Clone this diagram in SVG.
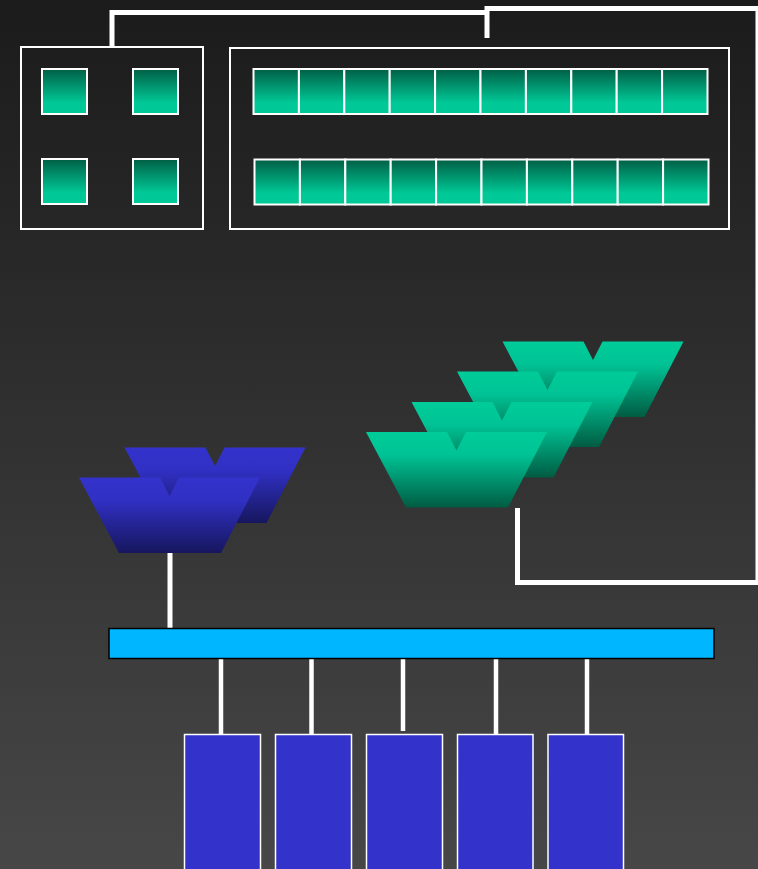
<svg xmlns="http://www.w3.org/2000/svg" width="758" height="869" viewBox="0 0 758 869">
<defs>
<linearGradient id="bg" x1="0" y1="0" x2="0" y2="1"><stop offset="0" stop-color="#1b1b1b"/><stop offset="1" stop-color="#474747"/></linearGradient>
<linearGradient id="cell" x1="0" y1="0" x2="0" y2="1"><stop offset="0" stop-color="#005f45"/><stop offset="0.75" stop-color="#00c896"/><stop offset="1" stop-color="#00c896"/></linearGradient>
<linearGradient id="gf" x1="0" y1="0" x2="0" y2="1"><stop offset="0" stop-color="#00cc99"/><stop offset="0.3" stop-color="#00c395"/><stop offset="1" stop-color="#005c42"/></linearGradient>
<linearGradient id="bf" x1="0" y1="0" x2="0" y2="1"><stop offset="0" stop-color="#3333cc"/><stop offset="0.3" stop-color="#3030c4"/><stop offset="1" stop-color="#16165e"/></linearGradient>
<path id="funnel" d="M0,0 L81,0 L90.5,18.5 L100,0 L181,0 L142,75.5 L40,75.5 Z"/>
</defs>
<style>
.frame{fill:none;stroke:#fff;stroke-width:2}
.cell{fill:url(#cell);stroke:#fff;stroke-width:2}
.wire{fill:none;stroke:#fff;stroke-width:5}
.pipe{fill:none;stroke:#fff;stroke-width:4.5}
.disk{fill:#3333cc;stroke:#fff;stroke-width:1.5}
</style>
<rect width="758" height="869" fill="url(#bg)"/>
<g id="connectors">
<polyline class="wire" points="112,47 112,12.5 487,12.5"/>
<polyline class="wire" points="487,38 487,8.5 758,8.5 758,582.5 517.5,582.5 517.5,508"/>
<line class="wire" x1="170" y1="553" x2="170" y2="628"/>
<line class="pipe" x1="221" y1="659" x2="221" y2="734"/>
<line class="pipe" x1="311.5" y1="659" x2="311.5" y2="734"/>
<line class="pipe" x1="403" y1="656" x2="403" y2="731"/>
<line class="pipe" x1="496" y1="659" x2="496" y2="734"/>
<line class="pipe" x1="587" y1="659" x2="587" y2="734"/>
</g>
<g id="cluster-small">
<rect class="frame" x="21" y="47" width="182" height="182"/>
<rect class="cell" x="42" y="69" width="45" height="45"/>
<rect class="cell" x="133" y="69" width="45" height="45"/>
<rect class="cell" x="42" y="159" width="45" height="45"/>
<rect class="cell" x="133" y="159" width="45" height="45"/>
</g>
<g id="cluster-large">
<rect class="frame" x="230" y="48" width="499" height="181"/>
<g transform="translate(253.5,69)">
<rect class="cell" x="0" y="0" width="45.4" height="45"/>
<rect class="cell" x="45.4" y="0" width="45.4" height="45"/>
<rect class="cell" x="90.8" y="0" width="45.4" height="45"/>
<rect class="cell" x="136.2" y="0" width="45.4" height="45"/>
<rect class="cell" x="181.6" y="0" width="45.4" height="45"/>
<rect class="cell" x="227" y="0" width="45.4" height="45"/>
<rect class="cell" x="272.4" y="0" width="45.4" height="45"/>
<rect class="cell" x="317.8" y="0" width="45.4" height="45"/>
<rect class="cell" x="363.2" y="0" width="45.4" height="45"/>
<rect class="cell" x="408.6" y="0" width="45.4" height="45"/>
</g>
<g transform="translate(254.5,159.5)">
<rect class="cell" x="0" y="0" width="45.4" height="45"/>
<rect class="cell" x="45.4" y="0" width="45.4" height="45"/>
<rect class="cell" x="90.8" y="0" width="45.4" height="45"/>
<rect class="cell" x="136.2" y="0" width="45.4" height="45"/>
<rect class="cell" x="181.6" y="0" width="45.4" height="45"/>
<rect class="cell" x="227" y="0" width="45.4" height="45"/>
<rect class="cell" x="272.4" y="0" width="45.4" height="45"/>
<rect class="cell" x="317.8" y="0" width="45.4" height="45"/>
<rect class="cell" x="363.2" y="0" width="45.4" height="45"/>
<rect class="cell" x="408.6" y="0" width="45.4" height="45"/>
</g>
</g>
<g id="green-funnels">
<use href="#funnel" fill="url(#gf)" x="502.5" y="341.5"/>
<use href="#funnel" fill="url(#gf)" x="457" y="371.5"/>
<use href="#funnel" fill="url(#gf)" x="411.5" y="402"/>
<use href="#funnel" fill="url(#gf)" x="366" y="432"/>
</g>
<g id="blue-funnels">
<use href="#funnel" fill="url(#bf)" x="124.5" y="447.5"/>
<use href="#funnel" fill="url(#bf)" x="79" y="477.5"/>
</g>
<g id="bus">
<rect x="109" y="628.5" width="605" height="30" fill="#00b7ff" stroke="#000" stroke-width="1.5"/>
</g>
<g id="disks">
<rect class="disk" x="184.5" y="734.5" width="76" height="140"/>
<rect class="disk" x="275.5" y="734.5" width="76" height="140"/>
<rect class="disk" x="366.5" y="734.5" width="76" height="140"/>
<rect class="disk" x="457.5" y="734.5" width="75.5" height="140"/>
<rect class="disk" x="548" y="734.5" width="75.5" height="140"/>
</g>
</svg>
